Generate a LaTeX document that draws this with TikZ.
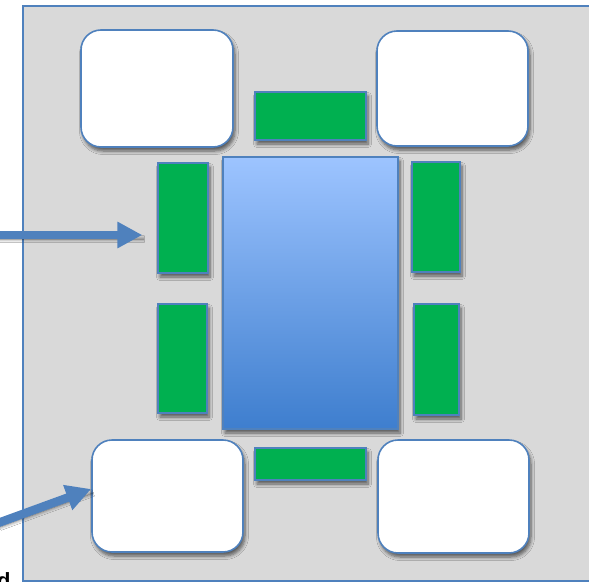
\documentclass[tikz,border=0pt]{standalone}
\usepackage{fontspec}
\setsansfont{Liberation Sans}
\usetikzlibrary{arrows.meta,shadows.blur}
\definecolor{panelgray}{HTML}{D9D9D9}
\definecolor{edgeblue}{HTML}{4F81BD}
\definecolor{padgreen}{HTML}{00B050}
\definecolor{bodytop}{RGB}{157,196,255}
\definecolor{bodybot}{RGB}{62,126,206}
\tikzset{
  px/.style={x=1pt,y=-1pt},
  shadowed/.style={blur shadow={shadow xshift=2pt,shadow yshift=-4pt,shadow blur steps=6,shadow opacity=60,shadow blur radius=3.5pt}},
  cornerbox/.style={draw=edgeblue,line width=1.6pt,fill=white,rounded corners=20pt,shadowed},
  padbox/.style={draw=edgeblue,line width=1.4pt,fill=padgreen,shadowed},
  bodybox/.style={draw=edgeblue,line width=1.4pt,top color=bodytop,bottom color=bodybot,shadowed},
  pointer/.style={draw=edgeblue,line width=8.5pt,-{Triangle[width=25pt,length=25pt]}},
}
\begin{document}
\begin{tikzpicture}[px]
  \useasboundingbox (0,0) rectangle (589,581);
  \clip (0,0) rectangle (589,581);
  % backing panel
  \fill[white] (0,0) rectangle (589,581);
  \node[draw=edgeblue,line width=1.6pt,fill=panelgray,inner sep=0,anchor=north west,
        minimum width=600pt,minimum height=575pt] (panel) at (22,5) {};
  % rounded corner blocks
  \node[cornerbox,inner sep=0,minimum width=152pt,minimum height=117pt] (tl) at (157,88.5) {};
  \node[cornerbox,inner sep=0,minimum width=151pt,minimum height=115pt] (tr) at (452.5,88.5) {};
  \node[cornerbox,inner sep=0,minimum width=151pt,minimum height=112pt] (bl) at (167.5,496) {};
  \node[cornerbox,inner sep=0,minimum width=151pt,minimum height=113pt] (br) at (453.5,496.5) {};
  % central body
  \node[bodybox,inner sep=0,minimum width=175pt,minimum height=272pt] (body) at (310.5,293) {};
  % green pads
  \node[padbox,inner sep=0,minimum width=111pt,minimum height=48pt] (pt) at (310.5,116) {};
  \node[padbox,inner sep=0,minimum width=111pt,minimum height=32pt] (pb) at (310.5,464) {};
  \node[padbox,inner sep=0,minimum width=50pt,minimum height=110pt] (pl1) at (183,218) {};
  \node[padbox,inner sep=0,minimum width=49pt,minimum height=109pt] (pl2) at (182.5,358.5) {};
  \node[padbox,inner sep=0,minimum width=48pt,minimum height=110pt] (pr1) at (436,217) {};
  \node[padbox,inner sep=0,minimum width=45pt,minimum height=111pt] (pr2) at (436.5,359.5) {};
  % pointers from the left margin
  \coordinate (s1) at (-2,235);
  \coordinate (s2) at (-2,523);
  \draw[pointer,shadowed] (s1) -- ([xshift=-15pt]pl1.west |- s1);
  \draw[pointer,shadowed] (s2) -- ([yshift=7pt]bl.west);
  % caption running off the lower edge
  \node[anchor=north west,inner sep=0,font=\sffamily\bfseries\fontsize{22}{26}\selectfont] (cap) at (-3,572) {d};
\end{tikzpicture}
\end{document}
